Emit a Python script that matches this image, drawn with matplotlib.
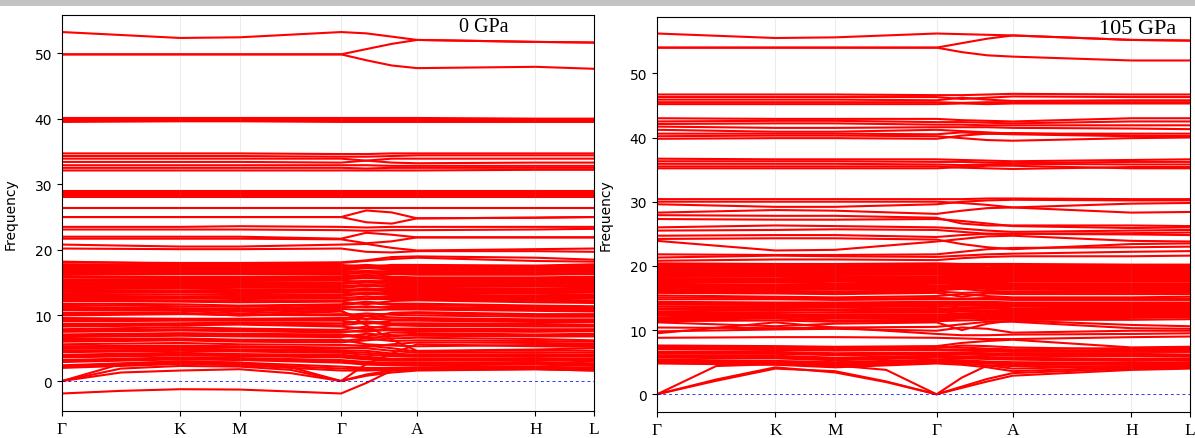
import matplotlib
matplotlib.use("Agg")
import matplotlib.pyplot as plt
from matplotlib.patches import Rectangle

# ---------------- k-path ----------------
tick_labels = ["Γ", "K", "M", "Γ", "A", "H", "L"]
tick_pos = [0.0, 0.222, 0.334, 0.5245, 0.6675, 0.89, 1.0]
# main grid: Γ K M Γ (1/3 Γ-A) (2/3 Γ-A) A H L
kpath_main = [0.0, 0.222, 0.334, 0.5245, 0.572, 0.62, 0.6675, 0.89, 1.0]
# fine grid for low branches: Γ ½ΓK K M ½MΓ Γ (1/3 Γ-A) (2/3 Γ-A) A H L
kpath_fine = [0.0, 0.111, 0.222, 0.334, 0.43, 0.5245, 0.572, 0.62, 0.6675, 0.89, 1.0]

# ---------------- 0 GPa ----------------
bands_0_top = [
    [53.2, 52.3, 52.4, 53.2, 53.0, 52.5, 52.0, 51.7, 51.6],
    [49.8, 49.8, 49.8, 49.8, 50.6, 51.4, 52.0, 51.7, 51.6],
    [49.8, 49.8, 49.8, 49.8, 48.9, 48.1, 47.7, 47.9, 47.6],
]
bands_0_40 = [
    [40.1, 40.1, 40.1, 40.1, 40.1, 40.1, 40.1, 40.0, 40.0],
    [39.9, 39.9, 39.9, 39.9, 39.9, 39.9, 39.9, 39.8, 39.8],
    [39.7, 39.7, 39.7, 39.7, 39.7, 39.7, 39.7, 39.7, 39.7],
    [39.5, 39.6, 39.6, 39.5, 39.5, 39.5, 39.5, 39.5, 39.5],
]
bands_0_33 = [
    [34.7, 34.7, 34.7, 34.6, 34.6, 34.7, 34.7, 34.7, 34.7],
    [34.3, 34.3, 34.3, 34.2, 34.2, 34.3, 34.4, 34.4, 34.4],
    [33.9, 33.9, 33.9, 33.9, 33.6, 33.3, 33.2, 33.3, 33.3],
    [33.4, 33.4, 33.4, 33.3, 33.6, 33.9, 33.9, 33.9, 33.9],
    [32.9, 32.9, 32.9, 32.9, 32.9, 32.8, 32.8, 32.8, 32.8],
    [32.5, 32.5, 32.5, 32.5, 32.4, 32.5, 32.5, 32.5, 32.5],
    [32.1, 32.1, 32.1, 32.1, 32.1, 32.1, 32.1, 32.2, 32.2],
]
bands_0_28 = [
    [28.9, 28.9, 28.9, 28.9, 28.9, 28.9, 28.9, 28.9, 28.9],
    [28.6, 28.6, 28.6, 28.6, 28.6, 28.6, 28.6, 28.6, 28.6],
    [28.3, 28.3, 28.3, 28.3, 28.3, 28.3, 28.3, 28.3, 28.3],
    [28.0, 28.0, 28.0, 28.0, 28.0, 28.0, 28.0, 28.0, 28.0],
]
bands_0_20s = [
    [26.4, 26.4, 26.4, 26.4, 26.4, 26.4, 26.4, 26.4, 26.4],
    [25.0, 25.0, 25.0, 25.0, 26.0, 25.7, 24.8, 24.9, 25.0],
    [25.0, 25.0, 25.0, 25.0, 24.2, 24.0, 24.8, 24.9, 25.0],
    [23.5, 23.5, 23.6, 23.5, 23.4, 23.5, 23.5, 23.5, 23.5],
    [23.1, 23.1, 23.1, 23.0, 22.9, 23.0, 23.0, 23.1, 23.2],
    [22.0, 22.0, 22.0, 21.7, 22.6, 22.3, 21.9, 21.9, 21.9],
    [21.7, 21.7, 21.7, 21.6, 21.0, 21.3, 21.9, 21.9, 21.9],
    [20.8, 20.5, 20.5, 20.8, 20.9, 20.3, 19.9, 20.1, 20.2],
    [20.2, 20.1, 20.1, 20.2, 19.7, 19.6, 19.8, 19.8, 19.7],
]
bands_0_dense = [
    [2.0, 2.6, 2.4, 1.6, 1.6, 1.7, 1.7, 1.8, 1.6],
    [2.4, 3.0, 2.8, 2.2, 2.0, 2.0, 2.1, 2.2, 2.0],
    [2.9, 3.3, 3.2, 2.8, 2.5, 2.4, 2.4, 2.5, 2.3],
    [3.2, 3.6, 3.5, 3.2, 2.9, 2.8, 2.8, 2.9, 2.7],
    [3.6, 3.9, 3.8, 3.6, 3.3, 3.1, 3.1, 3.2, 3.0],
    [4.0, 4.3, 4.1, 4.0, 3.7, 3.4, 3.4, 3.5, 3.4],
    [4.4, 4.6, 4.5, 4.3, 4.0, 3.8, 3.7, 3.8, 3.7],
    [4.9, 5.0, 4.8, 4.7, 4.6, 4.2, 4.0, 4.1, 4.0],
    [5.3, 5.4, 5.3, 5.1, 5.0, 4.6, 4.3, 4.4, 4.3],
    [5.6, 5.8, 5.6, 5.5, 5.4, 5.0, 4.5, 4.7, 4.6],
    [6.0, 6.2, 6.0, 5.9, 6.2, 6.5, 6.6, 6.4, 6.2],
    [6.4, 6.5, 6.3, 6.3, 5.6, 5.4, 5.3, 5.5, 5.5],
    [6.7, 6.9, 6.8, 6.7, 7.2, 7.0, 6.9, 6.8, 6.8],
    [7.1, 7.3, 7.2, 7.1, 6.8, 7.4, 7.3, 7.1, 7.2],
    [7.5, 7.7, 7.6, 7.4, 7.8, 7.7, 7.6, 7.5, 7.6],
    [7.9, 8.2, 8.0, 7.8, 8.3, 8.0, 8.0, 7.9, 7.9],
    [8.3, 8.5, 8.6, 8.3, 8.0, 8.5, 8.4, 8.3, 8.3],
    [8.7, 8.8, 8.9, 8.8, 9.1, 8.8, 8.8, 8.7, 8.6],
    [9.1, 9.2, 9.2, 9.2, 8.7, 9.2, 9.2, 9.0, 9.0],
    [9.6, 9.5, 9.5, 9.6, 9.9, 9.7, 9.6, 9.4, 9.4],
    [10.0, 10.2, 10.1, 10.0, 10.3, 10.1, 10.0, 9.8, 9.8],
    [10.4, 10.4, 10.0, 10.6, 9.4, 10.4, 10.5, 10.2, 10.2],
    [10.8, 10.7, 10.3, 10.8, 8.5, 6.3, 4.6, 4.8, 5.0],
    [10.9, 10.9, 10.6, 11.0, 10.8, 10.9, 10.9, 10.7, 10.6],
    [11.3, 11.1, 11.0, 11.4, 11.2, 11.3, 11.3, 11.1, 11.0],
    [11.8, 11.7, 11.5, 11.7, 12.1, 11.8, 11.8, 11.5, 11.4],
    [12.2, 12.1, 12.0, 12.1, 11.7, 12.2, 12.3, 12.0, 11.9],
    [12.6, 12.6, 12.5, 12.6, 12.9, 12.7, 12.7, 12.4, 12.3],
    [13.0, 12.9, 12.9, 13.0, 13.3, 13.1, 13.0, 12.8, 12.8],
    [13.4, 13.5, 13.4, 13.5, 13.2, 13.5, 13.4, 13.3, 13.2],
    [13.9, 13.8, 13.8, 13.8, 14.1, 13.9, 13.8, 13.7, 13.7],
    [14.3, 14.3, 14.3, 14.2, 14.5, 14.3, 14.2, 14.1, 14.1],
    [14.7, 14.8, 14.7, 14.6, 14.4, 14.7, 14.6, 14.6, 14.5],
    [15.1, 15.2, 15.1, 15.0, 15.3, 15.1, 15.0, 15.0, 15.0],
    [15.5, 15.5, 15.5, 15.5, 15.7, 15.5, 15.4, 15.4, 15.4],
    [16.0, 15.9, 15.9, 15.9, 16.2, 15.9, 15.8, 15.8, 15.9],
    [16.3, 16.3, 16.3, 16.2, 16.0, 16.3, 16.2, 16.2, 16.3],
    [16.7, 16.6, 16.6, 16.6, 16.8, 16.6, 16.6, 16.6, 16.7],
    [17.0, 17.0, 16.9, 16.9, 17.2, 17.0, 17.0, 17.0, 17.1],
    [17.4, 17.3, 17.3, 17.3, 17.5, 17.4, 17.4, 17.3, 17.4],
    [17.8, 17.7, 17.7, 17.7, 17.4, 17.7, 17.7, 17.6, 17.8],
    [18.2, 17.9, 17.9, 18.0, 18.3, 18.6, 18.8, 18.3, 18.2],
    [18.1, 18.0, 18.0, 18.1, 18.4, 18.9, 19.0, 18.8, 18.5],
]
bands_0_dense2 = [
    [2.2, 2.8, 2.6, 1.9, 1.8, 1.9, 1.9, 2.0, 1.8],
    [3.0, 3.5, 3.3, 3.0, 2.7, 2.6, 2.6, 2.7, 2.5],
    [3.8, 4.1, 4.0, 3.8, 3.5, 3.3, 3.2, 3.3, 3.2],
    [4.6, 4.8, 4.7, 4.5, 4.3, 4.0, 3.9, 3.9, 3.9],
    [5.2, 5.2, 5.1, 5.0, 5.2, 5.6, 5.9, 5.8, 5.7],
    [6.2, 6.3, 6.2, 6.1, 6.5, 6.1, 6.2, 6.1, 6.0],
    [6.9, 7.1, 7.0, 6.9, 6.6, 6.8, 7.1, 7.0, 7.0],
    [7.7, 7.9, 7.8, 7.6, 7.5, 7.9, 7.8, 7.7, 7.8],
    [8.5, 8.7, 8.7, 8.5, 8.9, 8.6, 8.6, 8.5, 8.5],
    [9.3, 9.4, 9.4, 9.4, 9.5, 9.4, 9.4, 9.2, 9.2],
    [10.2, 10.3, 10.0, 10.2, 10.0, 10.3, 10.3, 10.0, 10.0],
    [11.1, 11.0, 10.8, 11.2, 11.4, 11.1, 11.1, 10.9, 10.8],
    [11.6, 11.4, 11.3, 11.6, 11.9, 11.6, 11.6, 11.3, 11.2],
    [12.4, 12.3, 12.2, 12.3, 12.5, 12.5, 12.5, 12.2, 12.1],
    [12.8, 12.7, 12.7, 12.8, 12.6, 12.9, 12.9, 12.6, 12.6],
    [13.2, 13.2, 13.1, 13.2, 13.5, 13.3, 13.2, 13.0, 13.0],
    [13.7, 13.6, 13.6, 13.7, 13.8, 13.7, 13.6, 13.5, 13.5],
    [14.1, 14.1, 14.0, 14.0, 13.9, 14.1, 14.0, 13.9, 13.9],
    [14.5, 14.5, 14.5, 14.4, 14.7, 14.5, 14.4, 14.4, 14.3],
    [14.9, 15.0, 14.9, 14.8, 15.0, 14.9, 14.8, 14.8, 14.8],
    [15.3, 15.3, 15.3, 15.3, 15.1, 15.3, 15.2, 15.2, 15.2],
    [15.8, 15.7, 15.7, 15.7, 15.9, 15.7, 15.6, 15.6, 15.7],
    [16.5, 16.4, 16.4, 16.4, 16.5, 16.4, 16.4, 16.4, 16.5],
    [16.9, 16.8, 16.8, 16.8, 16.6, 16.8, 16.8, 16.8, 16.9],
    [17.2, 17.2, 17.1, 17.1, 17.3, 17.2, 17.2, 17.1, 17.2],
    [17.6, 17.5, 17.5, 17.5, 17.7, 17.5, 17.5, 17.4, 17.6],
]
bands_0_low = [  # on kpath_fine
    [0.0, 1.3, 1.6, 1.8, 1.2, 0.0, 0.8, 1.3, 1.6, 1.8, 1.6],
    [0.0, 1.9, 2.3, 2.2, 1.7, 0.0, 1.0, 1.6, 2.0, 2.1, 2.0],
    [0.0, 2.6, 3.0, 2.8, 2.1, 0.0, 2.6, 4.2, 5.6, 5.3, 5.2],
    [-1.9, -1.5, -1.25, -1.3, -1.6, -1.9, -0.3, 1.6, 1.8, 1.9, 1.8],
]

# ---------------- 105 GPa ----------------
bands_105_top = [
    [56.2, 55.5, 55.6, 56.2, 56.1, 56.0, 55.9, 55.2, 55.1],
    [54.0, 54.0, 54.0, 54.0, 54.7, 55.4, 55.9, 55.2, 55.1],
    [54.0, 54.0, 54.0, 54.0, 53.3, 52.8, 52.6, 52.0, 52.0],
]
bands_105_46 = [
    [46.7, 46.7, 46.7, 46.6, 46.6, 46.7, 46.8, 46.7, 46.7],
    [46.3, 46.3, 46.3, 46.3, 46.0, 46.2, 46.4, 46.3, 46.3],
    [45.9, 45.9, 45.9, 45.8, 46.2, 45.9, 45.7, 45.8, 45.8],
    [45.5, 45.5, 45.5, 45.5, 45.4, 45.5, 45.5, 45.5, 45.5],
    [45.2, 45.2, 45.2, 45.2, 45.3, 45.2, 45.3, 45.3, 45.3],
]
bands_105_41 = [
    [43.0, 42.9, 42.9, 42.9, 42.7, 42.6, 42.5, 43.0, 43.0],
    [42.5, 42.6, 42.6, 42.4, 42.4, 42.3, 42.2, 42.5, 42.5],
    [42.1, 42.2, 42.2, 42.0, 42.0, 41.9, 41.9, 41.9, 41.9],
    [41.7, 41.5, 41.5, 41.6, 41.6, 41.6, 41.5, 41.4, 41.3],
    [41.2, 40.9, 40.9, 41.2, 41.0, 40.8, 40.6, 40.6, 40.6],
    [40.6, 40.6, 40.6, 40.5, 40.8, 40.6, 40.5, 40.2, 40.2],
    [40.2, 40.3, 40.3, 40.2, 39.9, 39.6, 39.5, 39.9, 40.0],
    [39.8, 39.9, 39.9, 39.8, 40.3, 40.6, 40.7, 40.3, 40.2],
]
bands_105_36 = [
    [36.7, 36.6, 36.6, 36.6, 36.5, 36.4, 36.3, 36.5, 36.6],
    [36.3, 36.3, 36.3, 36.2, 36.2, 36.1, 36.0, 36.2, 36.2],
    [35.9, 35.9, 35.9, 35.8, 35.7, 35.8, 35.9, 35.8, 35.8],
    [35.5, 35.5, 35.5, 35.5, 35.3, 35.2, 35.1, 35.4, 35.4],
    [35.2, 35.2, 35.2, 35.2, 35.4, 35.6, 35.6, 35.2, 35.2],
]
bands_105_20s = [
    [30.4, 30.4, 30.4, 30.4, 30.4, 30.5, 30.5, 30.4, 30.4],
    [30.0, 30.0, 30.0, 30.0, 29.8, 29.5, 29.1, 29.7, 29.8],
    [29.6, 29.2, 29.2, 29.6, 30.0, 30.2, 30.3, 30.2, 30.2],
    [28.3, 28.7, 28.6, 28.1, 28.6, 29.0, 29.1, 28.3, 28.4],
    [27.9, 27.8, 27.8, 27.5, 26.6, 26.3, 26.3, 26.3, 26.2],
    [27.3, 27.2, 27.2, 27.3, 27.0, 26.6, 26.2, 25.9, 26.0],
    [26.0, 26.3, 26.2, 26.0, 25.8, 25.5, 25.3, 25.5, 25.6],
    [25.5, 25.6, 25.7, 25.6, 25.3, 25.0, 25.0, 25.1, 25.2],
    [24.7, 24.8, 24.8, 24.5, 24.8, 25.0, 25.0, 24.9, 24.8],
    [23.9, 22.4, 22.5, 23.8, 24.2, 24.6, 24.7, 23.9, 23.8],
    [24.2, 24.3, 24.3, 24.1, 23.4, 22.9, 22.6, 23.4, 23.5],
    [21.8, 21.7, 21.7, 21.8, 22.2, 22.6, 22.8, 22.9, 23.0],
    [21.3, 21.6, 21.5, 21.4, 21.6, 21.8, 21.9, 22.2, 22.3],
    [20.8, 21.0, 21.0, 20.9, 21.2, 21.4, 21.5, 21.5, 21.6],
]
bands_105_dense = [
    [4.8, 4.6, 4.2, 4.8, 4.6, 4.2, 3.6, 4.2, 4.4],
    [5.1, 4.8, 4.6, 5.1, 5.0, 4.8, 4.6, 4.6, 4.7],
    [5.4, 5.2, 5.0, 5.4, 5.3, 5.1, 5.0, 4.9, 5.0],
    [5.7, 5.6, 5.3, 5.7, 5.6, 5.5, 5.4, 5.2, 5.3],
    [6.0, 6.0, 5.7, 6.0, 5.9, 5.8, 5.7, 5.5, 5.6],
    [6.3, 6.3, 6.1, 6.2, 6.2, 6.1, 6.0, 5.9, 5.9],
    [6.6, 6.6, 6.4, 6.5, 6.5, 6.4, 6.3, 6.3, 6.2],
    [7.0, 6.9, 6.8, 6.9, 6.8, 6.7, 6.6, 6.6, 6.6],
    [7.3, 7.2, 7.1, 7.2, 7.6, 7.5, 7.3, 7.0, 7.0],
    [7.6, 7.5, 7.4, 7.5, 8.0, 8.3, 8.5, 7.3, 7.4],
    [8.8, 8.9, 8.9, 8.8, 8.7, 8.6, 8.6, 8.9, 9.0],
    [9.5, 11.2, 10.4, 9.4, 9.2, 9.2, 9.3, 9.4, 9.5],
    [9.8, 10.1, 10.2, 9.9, 10.4, 10.2, 9.6, 9.9, 9.9],
    [10.4, 10.3, 10.4, 10.5, 10.9, 11.3, 11.3, 10.3, 10.2],
    [11.2, 10.6, 11.0, 11.2, 10.0, 11.0, 11.5, 10.8, 10.6],
    [11.6, 11.8, 11.5, 11.6, 11.8, 11.9, 11.8, 11.9, 12.0],
    [12.0, 12.2, 12.0, 12.0, 12.2, 12.3, 12.2, 12.3, 12.3],
    [12.5, 12.5, 12.4, 12.4, 12.6, 12.7, 12.6, 12.7, 12.7],
    [12.9, 13.1, 13.0, 12.9, 13.1, 13.1, 13.0, 13.1, 13.1],
    [13.4, 13.5, 13.5, 13.3, 13.5, 13.6, 13.4, 13.5, 13.5],
    [14.0, 13.9, 13.9, 13.9, 14.0, 14.0, 13.9, 13.9, 13.9],
    [14.4, 14.3, 14.3, 14.4, 14.4, 14.4, 14.3, 14.3, 14.3],
    [14.8, 14.8, 14.7, 14.8, 14.8, 14.8, 14.7, 14.7, 14.7],
    [15.4, 15.2, 15.1, 15.3, 15.6, 15.3, 15.1, 15.1, 15.2],
    [15.8, 15.7, 15.6, 15.8, 15.2, 15.7, 15.6, 15.6, 15.6],
    [16.2, 16.1, 16.0, 16.2, 16.4, 16.1, 16.0, 16.0, 16.1],
    [16.6, 16.5, 16.5, 16.5, 16.7, 16.6, 16.5, 16.4, 16.5],
    [17.0, 16.9, 16.9, 16.9, 17.1, 17.0, 16.9, 16.9, 16.9],
    [17.5, 17.4, 17.3, 17.4, 17.5, 17.4, 17.3, 17.3, 17.3],
    [17.9, 17.8, 17.8, 17.8, 17.9, 17.8, 17.8, 17.8, 17.8],
    [18.3, 18.3, 18.2, 18.2, 18.3, 18.2, 18.2, 18.2, 18.2],
    [18.7, 18.7, 18.6, 18.7, 18.7, 18.6, 18.6, 18.6, 18.6],
    [19.2, 19.1, 19.0, 19.1, 19.1, 19.0, 19.0, 19.0, 19.0],
    [19.6, 19.5, 19.5, 19.5, 19.5, 19.4, 19.5, 19.4, 19.4],
    [20.0, 19.9, 19.9, 20.0, 19.9, 19.8, 19.9, 19.8, 19.8],
    [20.4, 20.3, 20.3, 20.4, 20.3, 20.3, 20.3, 20.2, 20.2],
]
bands_105_dense2 = [
    [4.9, 4.7, 4.4, 4.9, 4.8, 4.5, 4.0, 4.4, 4.5],
    [5.3, 5.0, 4.8, 5.2, 5.1, 5.0, 4.8, 4.8, 4.9],
    [5.9, 5.8, 5.5, 5.8, 5.7, 5.6, 5.5, 5.4, 5.4],
    [6.5, 6.4, 6.2, 6.4, 6.3, 6.2, 6.2, 6.1, 6.0],
    [7.2, 7.0, 6.9, 7.0, 7.0, 6.9, 6.8, 6.8, 6.8],
    [7.5, 7.4, 7.3, 7.4, 7.3, 7.1, 7.0, 7.2, 7.2],
    [11.4, 11.5, 11.3, 11.4, 11.5, 11.6, 11.6, 11.6, 11.7],
    [11.8, 12.0, 11.8, 11.8, 12.0, 12.1, 12.0, 12.1, 12.1],
    [12.3, 12.3, 12.2, 12.2, 12.4, 12.5, 12.4, 12.5, 12.5],
    [12.7, 12.8, 12.7, 12.7, 12.9, 12.9, 12.8, 12.9, 12.9],
    [13.2, 13.3, 13.2, 13.1, 13.3, 13.4, 13.2, 13.3, 13.3],
    [13.7, 13.7, 13.7, 13.6, 13.8, 13.8, 13.7, 13.7, 13.7],
    [14.2, 14.1, 14.1, 14.2, 14.2, 14.2, 14.1, 14.1, 14.1],
    [15.1, 15.0, 14.9, 15.0, 14.9, 15.0, 14.9, 14.9, 14.9],
    [16.0, 15.9, 15.8, 16.0, 15.8, 15.9, 15.8, 15.8, 15.8],
    [16.4, 16.3, 16.3, 16.3, 16.6, 16.4, 16.3, 16.2, 16.3],
    [16.8, 16.7, 16.7, 16.7, 16.9, 16.8, 16.7, 16.7, 16.7],
    [17.2, 17.1, 17.1, 17.2, 17.3, 17.2, 17.1, 17.1, 17.1],
    [17.7, 17.6, 17.6, 17.6, 17.7, 17.6, 17.6, 17.6, 17.6],
    [18.1, 18.0, 18.0, 18.0, 18.1, 18.0, 18.0, 18.0, 18.0],
    [18.5, 18.5, 18.4, 18.4, 18.5, 18.4, 18.4, 18.4, 18.4],
    [18.9, 18.9, 18.8, 18.9, 18.9, 18.8, 18.8, 18.8, 18.8],
    [19.4, 19.3, 19.2, 19.3, 19.3, 19.2, 19.2, 19.2, 19.2],
    [19.8, 19.7, 19.7, 19.7, 19.7, 19.6, 19.7, 19.6, 19.6],
    [20.2, 20.1, 20.1, 20.2, 20.1, 20.1, 20.1, 20.0, 20.0],
]
bands_105_low = [  # on kpath_fine
    [0.0, 4.4, 4.7, 4.5, 3.8, 0.0, 2.6, 4.5, 4.4, 4.3, 4.4],
    [0.0, 2.1, 4.0, 3.6, 2.0, 0.0, 1.0, 2.0, 2.9, 3.8, 4.0],
    [0.0, 2.3, 4.2, 3.4, 1.9, 0.0, 1.2, 2.4, 3.3, 4.0, 4.2],
]

panels = [
    dict(title="0 GPa", rect=[62/1195, 1-412/439, 532/1195, 396/439],
         ylim=(-4.57, 55.8),
         main=[bands_0_top, bands_0_40, bands_0_33, bands_0_28, bands_0_20s,
               bands_0_dense, bands_0_dense2],
         low=bands_0_low, tx=484/1195, ty=1-28/439, tsize=14.5),
    dict(title="105 GPa", rect=[657/1195, 1-413/439, 533/1195, 395.5/439],
         ylim=(-2.76, 58.85),
         main=[bands_105_top, bands_105_46, bands_105_41, bands_105_36, bands_105_20s,
               bands_105_dense, bands_105_dense2],
         low=bands_105_low, tx=1138/1195, ty=1-30/439, tsize=16),
]

fig = plt.figure(figsize=(11.95, 4.39), dpi=100)
fig.patches.append(Rectangle((0, 1-7/439), 1, 6/439, transform=fig.transFigure,
                             facecolor="#c3c3c3", edgecolor="none", zorder=0))

for p in panels:
    ax = fig.add_axes(p["rect"])
    for group in p["main"]:
        for band in group:
            ax.plot(kpath_main, band, color="red", lw=1.5, solid_joinstyle="round")
    for band in p["low"]:
        ax.plot(kpath_fine, band, color="red", lw=1.5, solid_joinstyle="round")
    ax.axhline(0, color="blue", ls=(0, (3, 3)), lw=0.7, alpha=0.8, zorder=3)
    for x in tick_pos[1:-1]:
        ax.axvline(x, color="gray", lw=0.8, alpha=0.15, zorder=4)
    ax.set_xlim(0, 1)
    ax.set_ylim(*p["ylim"])
    ax.set_xticks(tick_pos)
    ax.set_xticklabels(tick_labels, fontfamily="Liberation Serif", fontsize=12.5)
    ax.set_yticks([0, 10, 20, 30, 40, 50])
    ax.tick_params(axis="y", labelsize=10)
    ax.set_ylabel("Frequency", fontsize=10)
    ax.yaxis.set_label_coords(-0.083, 0.5)
    fig.text(p["tx"], p["ty"], p["title"], ha="center", va="center",
             fontfamily="Liberation Serif", fontsize=p["tsize"])

fig.savefig("out.png", dpi=100)
